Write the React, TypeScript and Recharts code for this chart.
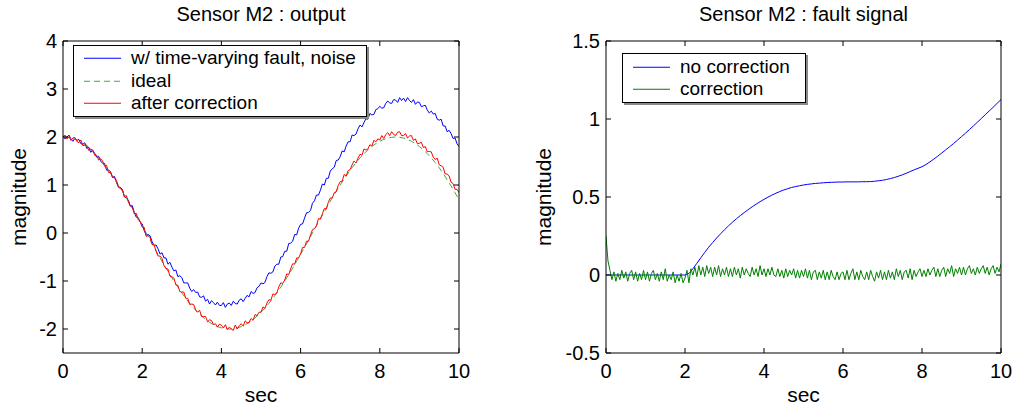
import { LineChart, Line, XAxis, YAxis, Legend } from "recharts";

// sampling grids (sec per sample)
const T_STEP = 0.1;
const T_STEP_FINE = 0.05;

const xTicks = [0, 2, 4, 6, 8, 10];
const outputTicks = [-2, -1, 0, 1, 2, 3, 4];
const faultTicks = [-0.5, 0, 0.5, 1, 1.5];

// left plot: sensor output
// with fault + noise, t = 0 .. 10 step 0.05
const outputFaulty = [
  2.03, 1.96, 2.0, 2.04, 1.96, 1.91, 1.97, 1.93, 1.95, 1.86, 1.85, 1.88, 1.76, 1.79, 1.68, 1.72, 1.66, 1.58, 1.6, 1.5,
  1.45, 1.45, 1.31, 1.31, 1.28, 1.16, 1.18, 1.05, 0.96, 0.95, 0.91, 0.75, 0.73, 0.69, 0.56, 0.57, 0.43, 0.33, 0.32, 0.23,
  0.19, 0.05, -0.04, -0.03, -0.06, -0.18, -0.26, -0.25, -0.33, -0.44, -0.41, -0.52, -0.52, -0.65, -0.61, -0.71, -0.79, -0.77, -0.91, -0.89,
  -0.93, -1.04, -1.04, -1.04, -1.15, -1.22, -1.18, -1.24, -1.23, -1.33, -1.34, -1.31, -1.42, -1.38, -1.48, -1.41, -1.45, -1.5, -1.44, -1.51,
  -1.51, -1.45, -1.55, -1.48, -1.46, -1.51, -1.42, -1.47, -1.48, -1.4, -1.37, -1.43, -1.36, -1.3, -1.33, -1.22, -1.26, -1.24, -1.14, -1.11,
  -1.04, -1.06, -1.03, -0.91, -0.83, -0.84, -0.81, -0.69, -0.65, -0.65, -0.5, -0.49, -0.38, -0.38, -0.22, -0.21, -0.17, -0.03, -0.04, 0.1,
  0.18, 0.19, 0.31, 0.42, 0.43, 0.47, 0.62, 0.67, 0.79, 0.79, 0.89, 1.02, 1.0, 1.14, 1.14, 1.29, 1.34, 1.37, 1.51, 1.52,
  1.59, 1.71, 1.69, 1.81, 1.9, 1.9, 2.04, 2.03, 2.06, 2.17, 2.25, 2.21, 2.3, 2.38, 2.37, 2.49, 2.46, 2.47, 2.57, 2.59,
  2.64, 2.6, 2.61, 2.7, 2.75, 2.71, 2.7, 2.78, 2.77, 2.72, 2.82, 2.76, 2.81, 2.74, 2.82, 2.76, 2.72, 2.78, 2.68, 2.73,
  2.72, 2.63, 2.65, 2.66, 2.56, 2.5, 2.54, 2.48, 2.49, 2.37, 2.35, 2.37, 2.23, 2.23, 2.11, 2.14, 2.07, 1.97, 1.98, 1.86,
  1.8,
];

// ideal, t = 0 .. 10 step 0.1
const outputIdeal = [
  2.0, 1.994, 1.978, 1.95, 1.911, 1.862, 1.802, 1.732, 1.652, 1.564,
  1.466, 1.36, 1.247, 1.127, 1.0, 0.868, 0.731, 0.59, 0.445, 0.298,
  0.149, 0.0, -0.149, -0.298, -0.445, -0.59, -0.731, -0.868, -1.0, -1.127,
  -1.247, -1.36, -1.466, -1.564, -1.652, -1.732, -1.802, -1.862, -1.911, -1.95,
  -1.978, -1.994, -2.0, -1.994, -1.978, -1.95, -1.911, -1.862, -1.802, -1.732,
  -1.652, -1.564, -1.466, -1.36, -1.247, -1.127, -1.0, -0.868, -0.731, -0.59,
  -0.445, -0.298, -0.149, 0.0, 0.149, 0.298, 0.445, 0.59, 0.731, 0.868,
  1.0, 1.127, 1.247, 1.36, 1.466, 1.564, 1.652, 1.732, 1.802, 1.862,
  1.911, 1.95, 1.978, 1.994, 2.0, 1.994, 1.978, 1.95, 1.911, 1.862,
  1.802, 1.732, 1.652, 1.564, 1.466, 1.36, 1.24, 1.11, 0.98, 0.84,
  0.7,
];

// after correction, t = 0 .. 10 step 0.05
const outputCorrected = [
  1.99, 2.04, 1.96, 2.01, 1.93, 1.98, 1.99, 1.91, 1.88, 1.94, 1.82, 1.83, 1.83, 1.72, 1.75, 1.73, 1.62, 1.62, 1.52, 1.55,
  1.5, 1.39, 1.41, 1.26, 1.26, 1.16, 1.15, 1.1, 0.95, 0.93, 0.9, 0.76, 0.78, 0.65, 0.56, 0.54, 0.4, 0.41, 0.28, 0.23,
  0.12, 0.12, -0.07, -0.05, -0.1, -0.24, -0.24, -0.38, -0.48, -0.48, -0.53, -0.68, -0.74, -0.75, -0.9, -0.91, -0.94, -1.08, -1.09, -1.22,
  -1.23, -1.23, -1.36, -1.36, -1.49, -1.48, -1.49, -1.6, -1.65, -1.61, -1.74, -1.74, -1.74, -1.85, -1.81, -1.82, -1.91, -1.89, -1.96, -1.9,
  -1.92, -1.98, -1.91, -2.01, -1.96, -2.0, -2.03, -1.92, -2.0, -1.93, -1.89, -1.94, -1.83, -1.87, -1.86, -1.78, -1.82, -1.7, -1.72, -1.65,
  -1.65, -1.54, -1.57, -1.46, -1.39, -1.4, -1.27, -1.28, -1.25, -1.12, -1.04, -1.05, -0.98, -0.85, -0.87, -0.74, -0.64, -0.65, -0.52, -0.52,
  -0.43, -0.3, -0.3, -0.17, -0.17, -0.04, 0.07, 0.09, 0.15, 0.3, 0.29, 0.4, 0.51, 0.5, 0.64, 0.73, 0.73, 0.84, 0.86, 0.99,
  1.07, 1.08, 1.22, 1.19, 1.3, 1.32, 1.42, 1.5, 1.46, 1.56, 1.64, 1.62, 1.75, 1.73, 1.75, 1.84, 1.81, 1.93, 1.9, 1.96,
  1.94, 2.03, 1.97, 2.05, 2.09, 2.03, 2.11, 2.05, 2.03, 2.1, 2.11, 2.03, 2.03, 2.07, 1.98, 2.02, 2.03, 1.93, 1.96, 1.86,
  1.87, 1.89, 1.78, 1.8, 1.69, 1.7, 1.69, 1.58, 1.53, 1.56, 1.42, 1.4, 1.37, 1.23, 1.23, 1.19, 1.06, 1.03, 0.91, 0.91,
  0.84,
];

// right plot: fault signal estimate
// no correction, t = 0 .. 10 step 0.1
const faultNoCorrection = [
  0, 0, 0, 0, 0, 0, 0, 0, 0, 0,
  0, 0, 0, 0, 0, 0, 0, 0, 0, 0,
  0, 0.01, 0.04, 0.075, 0.11, 0.145, 0.178, 0.208, 0.237, 0.264,
  0.29, 0.315, 0.338, 0.36, 0.381, 0.4, 0.419, 0.437, 0.454, 0.47,
  0.485, 0.499, 0.512, 0.524, 0.535, 0.545, 0.553, 0.561, 0.567, 0.572,
  0.577, 0.581, 0.584, 0.587, 0.589, 0.591, 0.593, 0.594, 0.595, 0.596,
  0.596, 0.597, 0.597, 0.597, 0.597, 0.598, 0.598, 0.599, 0.601, 0.604,
  0.607, 0.612, 0.618, 0.625, 0.633, 0.642, 0.652, 0.663, 0.674, 0.684,
  0.694, 0.708, 0.725, 0.743, 0.762, 0.782, 0.802, 0.822, 0.843, 0.865,
  0.887, 0.909, 0.932, 0.955, 0.979, 1.003, 1.027, 1.051, 1.075, 1.1,
  1.125,
];

// correction, t = 0 .. 10 step 0.05
const faultCorrection = [
  0.25, 0.09, 0.03, -0.03, 0.02, -0.04, 0.01, -0.03, 0.03, -0.02, 0.02, -0.04, 0.01, 0.03, -0.03, 0.02, -0.04, 0.01, -0.03, 0.03,
  -0.03, 0.02, -0.04, 0.01, 0.03, -0.03, 0.01, -0.04, 0.02, -0.03, 0.04, -0.04, 0.0, -0.03, 0.02, -0.05, 0.0, -0.04, 0.01, -0.05,
  -0.02, 0.03, -0.05, 0.04, 0.0, 0.05, -0.01, 0.06, 0.0, 0.05, -0.01, 0.06, 0.01, 0.05, -0.01, 0.05, 0.0, 0.06, -0.01, 0.04,
  0.0, 0.05, -0.01, 0.04, -0.01, 0.05, 0.0, 0.04, -0.02, 0.05, 0.0, 0.04, 0.01, -0.01, 0.05, 0.0, 0.04, -0.01, 0.06, 0.0,
  0.04, -0.01, 0.04, 0.0, 0.05, 0.0, -0.01, 0.04, -0.01, 0.03, -0.02, 0.04, -0.01, 0.03, 0.0, 0.04, -0.02, 0.03, -0.02, 0.03,
  -0.01, 0.04, -0.02, 0.03, -0.03, 0.02, 0.03, -0.03, 0.02, -0.02, 0.03, -0.03, 0.02, -0.03, 0.03, -0.01, -0.03, 0.02, -0.03, 0.01,
  0.02, -0.03, 0.03, -0.03, 0.01, 0.04, -0.03, 0.02, -0.03, 0.03, -0.01, -0.03, 0.02, -0.03, 0.03, -0.01, -0.04, 0.02, -0.02, 0.03,
  -0.03, 0.02, -0.03, 0.03, -0.02, 0.02, -0.03, 0.04, -0.01, 0.03, -0.03, 0.02, 0.03, -0.02, 0.04, -0.03, 0.03, -0.01, 0.02, 0.04,
  -0.01, 0.03, -0.01, 0.04, 0.0, 0.03, 0.05, -0.01, 0.04, -0.01, 0.03, 0.05, -0.01, 0.04, 0.01, 0.06, -0.01, 0.04, 0.01, 0.05,
  0.0, 0.05, 0.0, 0.04, 0.06, 0.01, 0.04, 0.0, 0.05, 0.01, 0.04, 0.06, 0.01, 0.05, 0.0, 0.04, 0.06, 0.01, 0.05, 0.02,
  0.07,
];

const BLUE = "#0000ff";
const RED = "#ff0000";
const IDEAL_GREEN = "#45a845";
const DARK_GREEN = "#008000";
const FONT = "Arial, 'Liberation Sans', Helvetica, sans-serif";

const outputLegend = [
  { name: "w/ time-varying fault, noise", color: BLUE, dash: undefined },
  { name: "ideal", color: IDEAL_GREEN, dash: "6 4" },
  { name: "after correction", color: RED, dash: undefined },
];
const faultLegend = [
  { name: "no correction", color: BLUE, dash: undefined },
  { name: "correction", color: DARK_GREEN, dash: undefined },
];

const sampleTime = (i: number, step: number) => Math.round(i * step * 100) / 100;

const faultyData = outputFaulty.map((v, i) => ({ t: sampleTime(i, T_STEP_FINE), v }));
const idealData = outputIdeal.map((v, i) => ({ t: sampleTime(i, T_STEP), v }));
const correctedData = outputCorrected.map((v, i) => ({ t: sampleTime(i, T_STEP_FINE), v }));
const noCorrData = faultNoCorrection.map((v, i) => ({ t: sampleTime(i, T_STEP), v }));
const corrData = faultCorrection.map((v, i) => ({ t: sampleTime(i, T_STEP_FINE), v }));

const tickStyle = { fill: "#000", fontSize: 20, fontFamily: FONT };

function LegendBox({ items, width, height }: { items: typeof outputLegend; width: number; height: number }) {
  const rowH = 22.5;
  const pad = (height - 2 - items.length * rowH) / 2;
  return (
    <div
      style={{
        boxSizing: "border-box",
        width,
        height,
        border: "1px solid #000",
        boxShadow: "2px 2px 0 #8a8a8a",
        background: "#fff",
        paddingTop: pad,
        fontFamily: FONT,
        fontSize: 19,
        color: "#000",
      }}
    >
      {items.map((it) => (
        <div key={it.name} style={{ height: rowH, display: "flex", alignItems: "center", whiteSpace: "nowrap" }}>
          <svg width={57} height={rowH} style={{ flex: "none" }}>
            <line x1={10} x2={47} y1={rowH / 2} y2={rowH / 2} stroke={it.color} strokeWidth={1.2} strokeDasharray={it.dash} />
          </svg>
          <span style={{ lineHeight: `${rowH}px` }}>{it.name}</span>
        </div>
      ))}
    </div>
  );
}

function yLabel(baselineX: number) {
  return ({ viewBox }: any) => {
    const cy = viewBox.y + viewBox.height / 2;
    return (
      <text
        x={baselineX}
        y={cy}
        transform={`rotate(-90 ${baselineX} ${cy})`}
        textAnchor="middle"
        fontSize={21}
        fontFamily={FONT}
        fill="#000"
      >
        magnitude
      </text>
    );
  };
}

export default function App() {
  return (
    <div style={{ position: "absolute", left: 0, top: 0, width: 1017, height: 410, background: "#fff" }}>
      <div style={{ position: "absolute", left: 0, top: 0 }}>
        <LineChart width={500} height={410} margin={{ top: 40, right: 40, bottom: 0, left: 0 }}>
          <XAxis
            dataKey="t"
            type="number"
            domain={[0, 10]}
            ticks={xTicks}
            height={57}
            tickSize={-5}
            tickMargin={16}
            stroke="#000"
            tick={tickStyle}
            allowDataOverflow
            label={{ value: "sec", position: "insideBottom", offset: 8, fontSize: 21, fontFamily: FONT, fill: "#000" }}
          />
          <XAxis
            xAxisId="top"
            orientation="top"
            dataKey="t"
            type="number"
            domain={[0, 10]}
            ticks={xTicks}
            height={1}
            tickSize={-5}
            stroke="#000"
            tickFormatter={() => ""}
            allowDataOverflow
            label={{ value: "Sensor M2 : output", position: "top", offset: 19, fontSize: 20, fontFamily: FONT, fill: "#000" }}
          />
          <YAxis
            type="number"
            domain={[-2.5, 4]}
            ticks={outputTicks}
            width={63}
            tickSize={-5}
            tickMargin={11}
            stroke="#000"
            tick={tickStyle}
            allowDataOverflow
            label={yLabel(26)}
          />
          <YAxis
            yAxisId="right"
            orientation="right"
            type="number"
            domain={[-2.5, 4]}
            ticks={outputTicks}
            width={1}
            tickSize={-5}
            stroke="#000"
            tickFormatter={() => ""}
            allowDataOverflow
          />
          <Line data={faultyData} dataKey="v" name="w/ time-varying fault, noise" stroke={BLUE} strokeWidth={1} dot={false} isAnimationActive={false} />
          <Line data={idealData} dataKey="v" name="ideal" stroke={IDEAL_GREEN} strokeWidth={1} strokeDasharray="6 4" dot={false} isAnimationActive={false} />
          <Line data={correctedData} dataKey="v" name="after correction" stroke={RED} strokeWidth={1} dot={false} isAnimationActive={false} />
          <Legend
            layout="vertical"
            align="center"
            verticalAlign="middle"
            wrapperStyle={{ left: 73, top: 45, width: 294, height: 72 }}
            content={() => <LegendBox items={outputLegend} width={294} height={72} />}
          />
        </LineChart>
      </div>

      <div style={{ position: "absolute", left: 517, top: 0 }}>
        <LineChart width={500} height={410} margin={{ top: 40, right: 15, bottom: 0, left: 0 }}>
          <XAxis
            dataKey="t"
            type="number"
            domain={[0, 10]}
            ticks={xTicks}
            height={57}
            tickSize={-5}
            tickMargin={16}
            stroke="#000"
            tick={tickStyle}
            allowDataOverflow
            label={{ value: "sec", position: "insideBottom", offset: 8, fontSize: 21, fontFamily: FONT, fill: "#000" }}
          />
          <XAxis
            xAxisId="top"
            orientation="top"
            dataKey="t"
            type="number"
            domain={[0, 10]}
            ticks={xTicks}
            height={1}
            tickSize={-5}
            stroke="#000"
            tickFormatter={() => ""}
            allowDataOverflow
            label={{ value: "Sensor M2 : fault signal", position: "top", offset: 19, fontSize: 20, fontFamily: FONT, fill: "#000" }}
          />
          <YAxis
            type="number"
            domain={[-0.5, 1.5]}
            ticks={faultTicks}
            width={89}
            tickSize={-5}
            tickMargin={11}
            stroke="#000"
            tick={tickStyle}
            allowDataOverflow
            label={yLabel(34)}
          />
          <YAxis
            yAxisId="right"
            orientation="right"
            type="number"
            domain={[-0.5, 1.5]}
            ticks={faultTicks}
            width={1}
            tickSize={-5}
            stroke="#000"
            tickFormatter={() => ""}
            allowDataOverflow
          />
          <Line data={noCorrData} dataKey="v" name="no correction" stroke={BLUE} strokeWidth={1} dot={false} isAnimationActive={false} />
          <Line data={corrData} dataKey="v" name="correction" stroke={DARK_GREEN} strokeWidth={1} dot={false} isAnimationActive={false} />
          <Legend
            layout="vertical"
            align="center"
            verticalAlign="middle"
            wrapperStyle={{ left: 105, top: 53, width: 184, height: 50 }}
            content={() => <LegendBox items={faultLegend} width={184} height={50} />}
          />
        </LineChart>
      </div>
    </div>
  );
}
